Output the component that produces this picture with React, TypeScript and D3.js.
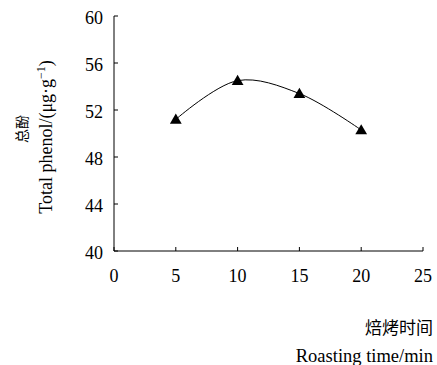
import React from "react";
import * as d3 from "d3";

const times = [5, 10, 15, 20];
const phenol = [51.2, 54.5, 53.4, 50.3];
const xTicks = [0, 5, 10, 15, 20, 25];
const yTicks = [40, 44, 48, 52, 56, 60];

export default function App() {
  const W = 437, H = 365;
  const x = d3.scaleLinear().domain([0, 25]).range([114, 423]);
  const y = d3.scaleLinear().domain([40, 60]).range([251, 16]);
  const line = d3
    .line<number>()
    .x((_, i) => x(times[i]))
    .y((d) => y(d))
    .curve(d3.curveCatmullRom.alpha(0.5));
  const tri = d3.symbol().type(d3.symbolTriangle).size(60)();
  const serif = "'Liberation Serif', 'Times New Roman', serif";
  const cjk = "'Noto Sans CJK SC', sans-serif";
  return (
    <svg width={W} height={H} style={{ position: "absolute", left: 0, top: 0, background: "#fff" }}>
      <line x1={x(0)} x2={x(0)} y1={y(60)} y2={y(40)} stroke="#000" strokeWidth={1} />
      <line x1={x(0)} x2={x(25)} y1={y(40)} y2={y(40)} stroke="#000" strokeWidth={1} />
      {yTicks.map((t) => (
        <g key={"y" + t}>
          <line x1={x(0)} x2={x(0) + 4} y1={y(t)} y2={y(t)} stroke="#000" />
          <text x={103} y={y(t) + 8} textAnchor="end" fontFamily={serif} fontSize={18}>
            {t}
          </text>
        </g>
      ))}
      {xTicks.map((t) => (
        <g key={"x" + t}>
          <line x1={x(t)} x2={x(t)} y1={y(40)} y2={y(40) - 4} stroke="#000" />
          <text x={x(t)} y={282} textAnchor="middle" fontFamily={serif} fontSize={18}>
            {t}
          </text>
        </g>
      ))}
      <path d={line(phenol) || ""} fill="none" stroke="#000" strokeWidth={1} />
      {phenol.map((v, i) => (
        <path key={i} d={tri || ""} transform={`translate(${x(times[i])},${y(v) + 1})`} fill="#000" />
      ))}
      <text transform="translate(27,129) rotate(-90)" textAnchor="middle" fontFamily={cjk} fontSize={14}>
        总酚
      </text>
      <text transform="translate(52,137) rotate(-90)" textAnchor="middle" fontFamily={serif} fontSize={18}>
        Total phenol/(μg·g<tspan dy="-7" fontSize={12}>−1</tspan><tspan dy="7">)</tspan>
      </text>
      <text x={433} y={334} textAnchor="end" fontFamily={cjk} fontSize={17}>
        焙烤时间
      </text>
      <text x={433} y={362} textAnchor="end" fontFamily={serif} fontSize={18.5}>
        Roasting time/min
      </text>
    </svg>
  );
}
